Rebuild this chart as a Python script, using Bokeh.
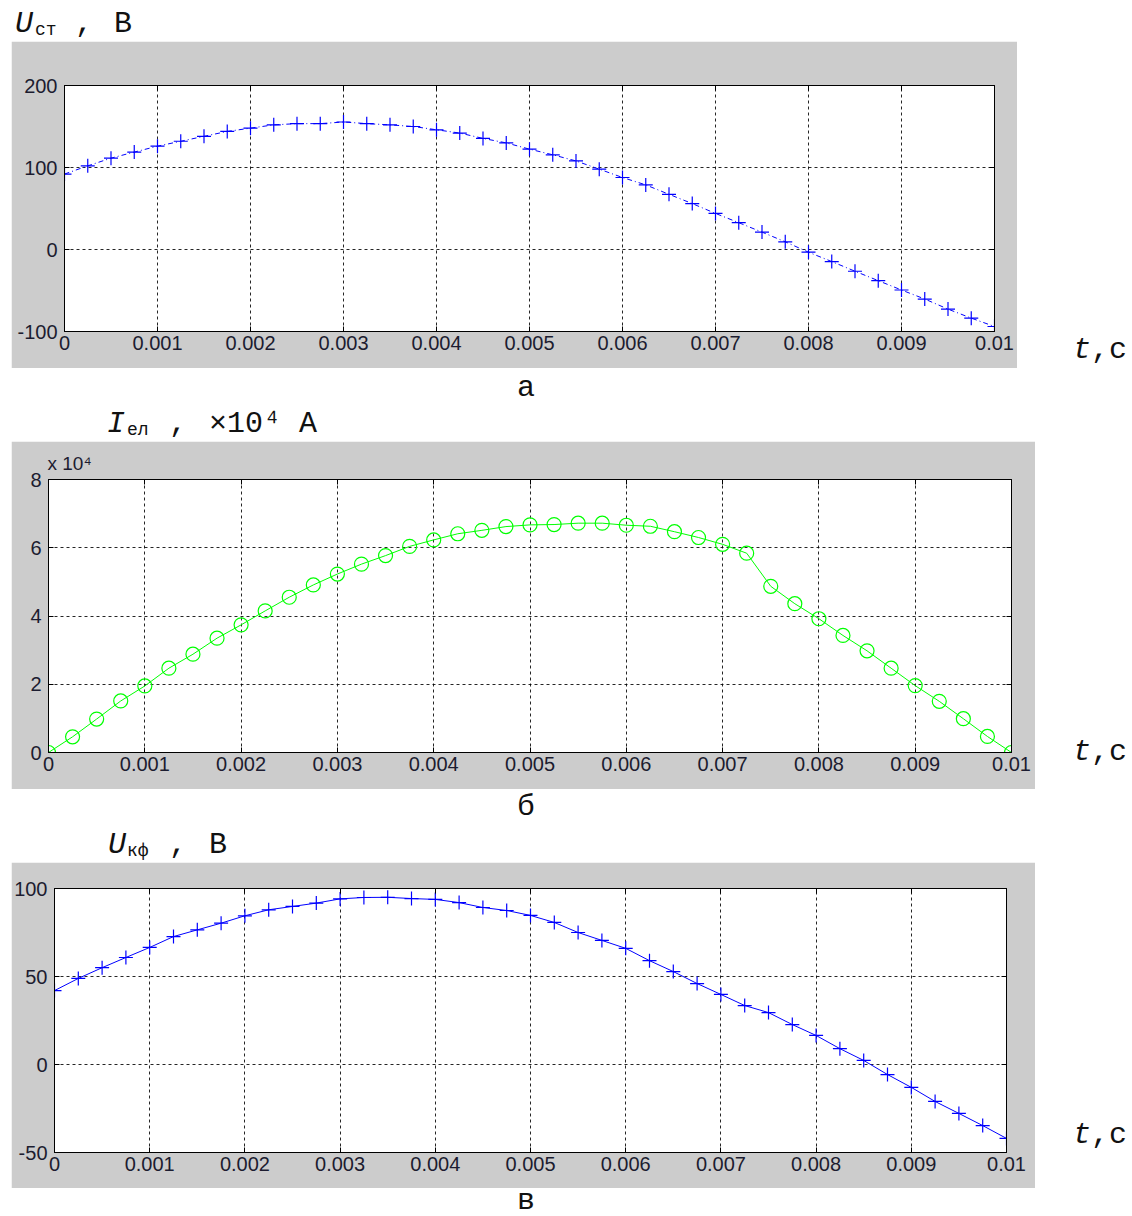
from bokeh.plotting import figure
from bokeh.layouts import column, row
from bokeh.models import (Range1d, FixedTicker, CustomJSTickFormatter, LinearAxis, Div, Spacer)
from bokeh.embed import file_html
from bokeh.resources import INLINE

# ---- data -------------------------------------------------------------
t = [0.0, 0.00025, 0.0005, 0.00075, 0.001, 0.00125, 0.0015, 0.00175, 0.002, 0.00225,
     0.0025, 0.00275, 0.003, 0.00325, 0.0035, 0.00375, 0.004, 0.00425, 0.0045, 0.00475,
     0.005, 0.00525, 0.0055, 0.00575, 0.006, 0.00625, 0.0065, 0.00675, 0.007, 0.00725,
     0.0075, 0.00775, 0.008, 0.00825, 0.0085, 0.00875, 0.009, 0.00925, 0.0095, 0.00975, 0.01]

u_st = [92, 102, 111.4, 118.8, 126, 132, 138, 144, 148, 152,
        153.5, 153.5, 155.5, 153.5, 152, 150, 146, 142, 135.5, 130,
        122.4, 115.5, 108, 98, 87.8, 78.8, 67.3, 56, 44, 32.7,
        21.2, 9.4, -3.3, -14.7, -26.5, -38, -49.4, -60.4, -72.7, -83.7, -93.9]

i_el = [0, 0.46, 0.98, 1.51, 1.95, 2.47, 2.88, 3.35, 3.74, 4.15,
        4.55, 4.91, 5.23, 5.52, 5.77, 6.04, 6.23, 6.41, 6.51, 6.62,
        6.67, 6.68, 6.72, 6.72, 6.66, 6.63, 6.47, 6.3, 6.1, 5.84,
        4.87, 4.36, 3.92, 3.43, 2.98, 2.47, 1.96, 1.5, 0.99, 0.47, 0]

u_kf = [42, 48.9, 55, 60.8, 66.5, 72.7, 76.5, 80.3, 84.5, 87.9,
        89.8, 91.7, 94.1, 94.9, 95, 94.3, 93.8, 92, 89.2, 87.5,
        84.7, 80.7, 75, 70.5, 66, 59, 52.8, 46, 39.8, 33.5,
        29.5, 22.7, 16.5, 9, 2.3, -5.7, -13, -21, -27.8, -34.7, -42]

x_ticks = [0, 0.001, 0.002, 0.003, 0.004, 0.005, 0.006, 0.007, 0.008, 0.009, 0.01]
y_ticks_a = [-100, 0, 100, 200]
y_ticks_b = [0, 2, 4, 6, 8]
y_ticks_c = [-50, 0, 50, 100]

GRAY = "#cccccc"
TICK_COLOR = "#1c1c30"
MONO = "Liberation Mono"
SANS = "Liberation Sans"

xfmt_code = "return tick.toFixed(3).replace(/\\.?0+$/, '');"
yfmt_code = "return String(tick);"


def text_div(width, height, spans):
    parts = []
    for sp in spans:
        left, top, text, size, italic = sp[:5]
        lh = sp[5] if len(sp) > 5 else "normal"
        style = ("position:absolute;left:%spx;top:%spx;font-family:'%s';font-size:%spx;"
                 "font-style:%s;line-height:%s;white-space:pre;color:#111;margin:0;padding:0"
                 % (left, top, MONO, size, "italic" if italic else "normal", lh))
        parts.append('<span style="%s">%s</span>' % (style, text))
    html = ('<div style="position:relative;width:%dpx;height:%dpx;overflow:visible;margin:0;padding:0">'
            % (width, height)) + "".join(parts) + "</div>"
    return Div(text=html, width=width, height=height, margin=0)


def make_panel(width, height, ymin, ymax, yticks, fl, fr, ft, fb):
    p = figure(width=width, height=height, x_range=Range1d(0, 0.01),
               y_range=Range1d(ymin, ymax), output_backend="svg", toolbar_location=None,
               min_border_left=fl, min_border_right=fr, min_border_top=ft,
               min_border_bottom=fb, margin=0)
    p.border_fill_color = GRAY
    p.background_fill_color = "white"
    p.outline_line_color = "black"
    p.outline_line_width = 1

    p.xaxis.ticker = FixedTicker(ticks=x_ticks)
    p.xaxis.formatter = CustomJSTickFormatter(code=xfmt_code)
    p.yaxis.ticker = FixedTicker(ticks=yticks)
    p.yaxis.formatter = CustomJSTickFormatter(code=yfmt_code)
    for ax in (p.xaxis, p.yaxis):
        ax.axis_line_color = "black"
        ax.major_tick_line_color = "black"
        ax.major_tick_in = 5
        ax.major_tick_out = 0
        ax.minor_tick_line_color = None
        ax.major_label_text_font = SANS
        ax.major_label_text_font_size = "20px"
        ax.major_label_text_color = TICK_COLOR
    p.xaxis.major_label_standoff = 4
    p.yaxis.major_label_standoff = 7

    for loc, tk in (("above", x_ticks), ("right", yticks)):
        ax = LinearAxis(ticker=FixedTicker(ticks=tk),
                        formatter=CustomJSTickFormatter(code="return '';"),
                        axis_line_color="black", major_tick_line_color="black",
                        major_tick_in=5, major_tick_out=0, minor_tick_line_color=None,
                        major_label_standoff=0, major_label_text_font_size="1px")
        p.add_layout(ax, loc)

    p.grid.grid_line_color = "black"
    p.grid.grid_line_dash = "3 3"
    p.grid.grid_line_alpha = 0.85
    p.grid.grid_line_width = 1
    return p


# ---- panel a (gray 11..1017 x 41..368) -----------------------------------
pa = make_panel(1006, 327, -100, 200, y_ticks_a, 53, 23, 44, 37)
pa.line(t, u_st, line_color="#0000ff", line_width=1, line_dash="5 3 1 3")
pa.scatter(t, u_st, marker="cross", size=14, line_color="#0000ff", line_width=1.2)

# ---- panel b (gray 11..1035 x 441..789) -----------------------------------
pb = make_panel(1024, 348, 0, 8, y_ticks_b, 37, 24, 38, 37)
pb.line(t, i_el, line_color="#00ff00", line_width=1)
pb.scatter(t, i_el, marker="circle", size=14, fill_color=None, line_color="#00ff00",
           line_width=1.2)
pb.title.text = "x 10⁴"
pb.title.align = "left"
pb.title.offset = -1
pb.title.standoff = 11
pb.title.text_font = SANS
pb.title.text_font_size = "19px"
pb.title.text_font_style = "normal"
pb.title.text_color = TICK_COLOR

# ---- panel c (gray 11..1035 x 862..1188) ----------------------------------
pc = make_panel(1024, 326, -50, 100, y_ticks_c, 41, 29, 26, 36)
pc.line(t, u_kf, line_color="#0000ff", line_width=1)
pc.scatter(t, u_kf, marker="cross", size=14, line_color="#0000ff", line_width=1.2)

# ---- texts around the panels ---------------------------------------------
title_a = text_div(1132, 41, [(15, 7, "U", 30, True), (35, 20, "ст", 18, False),
                              (75, 7, ",", 30, False), (114, 7, "В", 30, False)])
mid_ab = text_div(1132, 73, [(517, 3, "а", 30, False),
                             (107, 39, "I", 30, True), (127, 52, "ел", 18, False),
                             (169, 39, ",", 30, False), (209, 39, "×10⁴ А", 30, False)])
mid_bc = text_div(1132, 73, [(517, 1, "б", 30, False),
                             (108, 39, "U", 30, True), (127, 52, "кф", 18, False),
                             (169, 39, ",", 30, False), (209, 39, "В", 30, False)])
bottom_c = text_div(1132, 28, [(517, 0, "в", 30, False, "26px")])

tc_a = text_div(115, 327, [(56, 292, "t", 30, True), (74, 292, ",с", 30, False)])
tc_b = text_div(97, 348, [(38, 294, "t", 30, True), (56, 294, ",с", 30, False)])
tc_c = text_div(97, 326, [(38, 256, "t", 30, True), (56, 256, ",с", 30, False)])

layout = column(
    title_a,
    row(Spacer(width=11, height=327, margin=0), pa, tc_a, spacing=0, margin=0),
    mid_ab,
    row(Spacer(width=11, height=348, margin=0), pb, tc_b, spacing=0, margin=0),
    mid_bc,
    row(Spacer(width=11, height=326, margin=0), pc, tc_c, spacing=0, margin=0),
    bottom_c,
    spacing=0, margin=0,
)
open("out.html", "w").write(file_html(layout, INLINE))
